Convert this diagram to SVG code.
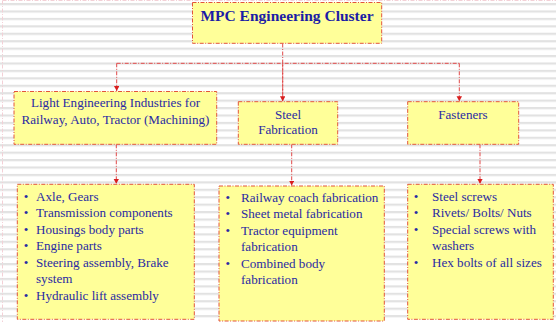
<svg xmlns="http://www.w3.org/2000/svg" width="556" height="322" viewBox="0 0 556 322">
<defs>
<pattern id="stripes" patternUnits="userSpaceOnUse" x="0" y="3" width="556" height="7.43">
<rect x="0" y="0" width="556" height="2.2" fill="#e2e2e2"/>
</pattern>
<marker id="arr" markerWidth="8" markerHeight="8" refX="5" refY="2.75" orient="auto" markerUnits="userSpaceOnUse">
<path d="M0,0 L5,2.75 L0,5.5 Z" fill="#d81e1e"/>
</marker>
<style>
.box{fill:#ffff99;stroke:#e2553a;stroke-width:1;stroke-dasharray:4 1.5 1 1.5;}
.con{fill:none;stroke:#e04848;stroke-width:1;stroke-dasharray:4 1.5 1 1.5;}
.t{font-family:"Liberation Serif","Times New Roman",serif;font-size:13.1px;fill:#2a2aa3;}
.title{font-family:"Liberation Serif","Times New Roman",serif;font-size:15.5px;font-weight:bold;fill:#1c1ca6;}
.c{text-anchor:middle;}
</style>
</defs>
<rect x="0" y="0" width="556" height="322" fill="#ffffff"/>
<rect x="0" y="0" width="556" height="322" fill="url(#stripes)"/>
<g id="frame" fill="none" stroke="#f3d0d6" stroke-width="1" stroke-dasharray="4 1.5 1 1.5">
<line x1="2.5" y1="0.5" x2="556" y2="0.5"/>
<line x1="2.5" y1="0.5" x2="2.5" y2="322"/>
</g>
<g id="connectors" class="con">
<path class="con" d="M282.7 43.5 V101"/>
<path class="con" d="M116.7 63.3 H459.3"/>
<path class="con" d="M116.7 63.3 V91" marker-end="url(#arr)"/>
<path class="con" d="M282.7 63.3 V101.2" marker-end="url(#arr)"/>
<path class="con" d="M459.3 63.3 V101.2" marker-end="url(#arr)"/>
<path class="con" d="M116.3 144.3 V183.8" marker-end="url(#arr)"/>
<path class="con" d="M291.7 144.3 V185.5" marker-end="url(#arr)"/>
<path class="con" d="M480 144.3 V183.8" marker-end="url(#arr)"/>
</g>
<g id="root">
<rect class="box" x="192.5" y="2.5" width="189.2" height="40.8"/>
<text class="title c" x="287" y="20.5">MPC Engineering Cluster</text>
</g>
<g id="light-engineering">
<rect class="box" x="14" y="91.5" width="202.7" height="52.8"/>
<text class="t c" x="115.5" y="106.8">Light Engineering Industries for</text>
<text class="t c" x="115.5" y="124.3">Railway, Auto, Tractor (Machining)</text>
</g>
<g id="steel-fabrication">
<rect class="box" x="238.3" y="101.7" width="99.4" height="42.6"/>
<text class="t c" x="288" y="118.8">Steel</text>
<text class="t c" x="288" y="133.8">Fabrication</text>
</g>
<g id="fasteners">
<rect class="box" x="407.7" y="101.7" width="111" height="42.6"/>
<text class="t c" x="463" y="118.8">Fasteners</text>
</g>
<g id="light-engineering-items">
<rect class="box" x="17.3" y="184.3" width="177" height="135"/>
<g class="t c">
<text x="26" y="200.5">•</text>
<text x="26" y="217">•</text>
<text x="26" y="233.5">•</text>
<text x="26" y="250">•</text>
<text x="26" y="266.5">•</text>
<text x="26" y="299.5">•</text>
</g>
<g class="t">
<text x="36" y="200.5">Axle, Gears</text>
<text x="36" y="217">Transmission components</text>
<text x="36" y="233.5">Housings body parts</text>
<text x="36" y="250">Engine parts</text>
<text x="36" y="266.5">Steering assembly, Brake</text>
<text x="36" y="283">system</text>
<text x="36" y="299.5">Hydraulic lift assembly</text>
</g>
</g>
<g id="steel-fabrication-items">
<rect class="box" x="219" y="186" width="165.3" height="135"/>
<g class="t c">
<text x="227.7" y="202">•</text>
<text x="227.7" y="218">•</text>
<text x="227.7" y="234.5">•</text>
<text x="227.7" y="267.5">•</text>
</g>
<g class="t">
<text x="241" y="202">Railway coach fabrication</text>
<text x="241" y="218">Sheet metal fabrication</text>
<text x="241" y="234.5">Tractor equipment</text>
<text x="241" y="251">fabrication</text>
<text x="241" y="267.5">Combined body</text>
<text x="241" y="284">fabrication</text>
</g>
</g>
<g id="fasteners-items">
<rect class="box" x="407.7" y="184.3" width="145.6" height="135"/>
<g class="t c">
<text x="416" y="200.5">•</text>
<text x="416" y="217">•</text>
<text x="416" y="233.5">•</text>
<text x="416" y="267">•</text>
</g>
<g class="t">
<text x="432" y="200.5">Steel screws</text>
<text x="432" y="217">Rivets/ Bolts/ Nuts</text>
<text x="432" y="233.5">Special screws with</text>
<text x="432" y="250">washers</text>
<text x="432" y="267">Hex bolts of all sizes</text>
</g>
</g>
</svg>
